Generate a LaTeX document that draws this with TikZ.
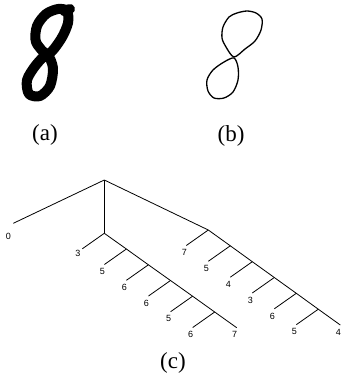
\documentclass[tikz,border=0pt]{standalone}
\usepackage{fontspec}
\setmainfont{Liberation Serif}
\newfontfamily\treefont{Liberation Sans}

\begin{document}
\begin{tikzpicture}[
  x=1pt,
  y=-1pt,
  line join=round,
  every node/.style={inner sep=0pt},
  caption/.style={font=\fontsize{23}{26}\selectfont},
  leaf/.style={anchor=north,font=\treefont\fontsize{9}{10}\selectfont,xshift=-2pt,yshift=-3.8pt},
  branch/.style={line width=0.8pt},
  bold digit/.style={line width=10pt,line cap=round},
  thin digit/.style={line width=1.3pt},
]
\useasboundingbox (0,0) rectangle (341,378);

% (a) the digit as written
\draw[bold digit] plot[smooth cycle] coordinates {(48,54) (36,42) (37,26) (46,14) (58,9) (67,11) (68,23) (61,39)};
\draw[bold digit] plot[smooth cycle] coordinates {(47,55) (53,68) (50,86) (40,96) (29,94) (27,80) (36,65)};
\draw[bold digit] (64,11) -- (70,9);

% (b) its contour
\draw[thin digit] plot[smooth cycle] coordinates {(234,57) (226,47) (222,38) (223,27) (229,17) (237,13) (247,11) (256,13) (262,19) (261,30) (255,41) (245,49)};
\draw[thin digit] plot[smooth cycle] coordinates {(234,58) (224,62) (213,70) (207,80) (208,91) (214,98) (224,98) (233,92) (238,80) (238,67)};

\node[caption] (capa) at (45,134.5) {(a)};
\node[caption] (capb) at (231,136) {(b)};
\node[caption] (capc) at (173,362.5) {(c)};

% (c) the tree
\coordinate (root) at (104.3,180);
\coordinate (end0) at (13.3,223.3);
\coordinate (m0) at (104.3,233.3);
\coordinate (m1) at (126.4,249.0);
\coordinate (m2) at (148.4,264.8);
\coordinate (m3) at (170.5,280.5);
\coordinate (m4) at (192.6,296.2);
\coordinate (m5) at (214.7,312.0);
\coordinate (m6) at (236.7,327.7);
\coordinate (r0) at (208.3,230.0);
\coordinate (r1) at (230.3,245.8);
\coordinate (r2) at (252.3,261.7);
\coordinate (r3) at (274.3,277.5);
\coordinate (r4) at (296.3,293.3);
\coordinate (r5) at (318.3,309.2);
\coordinate (r6) at (340.3,325.0);
\coordinate (mt0) at (82.3,248.8);
\coordinate (mt1) at (104.4,264.5);
\coordinate (mt2) at (126.4,280.3);
\coordinate (mt3) at (148.5,296.0);
\coordinate (mt4) at (170.6,311.7);
\coordinate (mt5) at (192.7,327.5);
\coordinate (rt0) at (186.3,245.5);
\coordinate (rt1) at (208.3,261.3);
\coordinate (rt2) at (230.3,277.2);
\coordinate (rt3) at (252.3,293.0);
\coordinate (rt4) at (274.3,308.8);
\coordinate (rt5) at (296.3,324.7);

\draw[branch] (root) -- (end0);
\draw[branch] (root) -- (m0);
\draw[branch] (root) -- (r0);
\draw[branch] (m0) -- (m1) -- (m2) -- (m3) -- (m4) -- (m5) -- (m6);
\draw[branch] (r0) -- (r1) -- (r2) -- (r3) -- (r4) -- (r5) -- (r6);
\draw[branch] (m0) -- (mt0);
\draw[branch] (m1) -- (mt1);
\draw[branch] (m2) -- (mt2);
\draw[branch] (m3) -- (mt3);
\draw[branch] (m4) -- (mt4);
\draw[branch] (m5) -- (mt5);
\draw[branch] (r0) -- (rt0);
\draw[branch] (r1) -- (rt1);
\draw[branch] (r2) -- (rt2);
\draw[branch] (r3) -- (rt3);
\draw[branch] (r4) -- (rt4);
\draw[branch] (r5) -- (rt5);

\node[leaf,xshift=-3pt,yshift=-6.4pt] (l0) at (end0) {0};
\node[leaf,xshift=-2.3pt,yshift=3pt] (lm0) at (mt0) {3};
\node[leaf] (lm1) at (mt1) {5};
\node[leaf] (lm2) at (mt2) {6};
\node[leaf] (lm3) at (mt3) {6};
\node[leaf] (lm4) at (mt4) {5};
\node[leaf] (lm5) at (mt5) {6};
\node[leaf] (lm6) at (m6) {7};
\node[leaf] (lr0) at (rt0) {7};
\node[leaf] (lr1) at (rt1) {5};
\node[leaf] (lr2) at (rt2) {4};
\node[leaf] (lr3) at (rt3) {3};
\node[leaf] (lr4) at (rt4) {6};
\node[leaf] (lr5) at (rt5) {5};
\node[leaf] (lr6) at (r6) {4};
\end{tikzpicture}
\end{document}
